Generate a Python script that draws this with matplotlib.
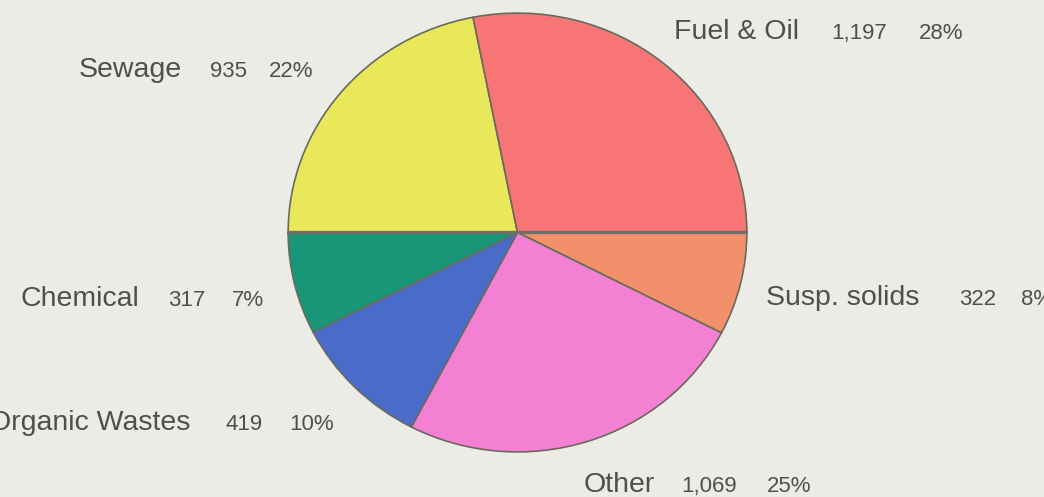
import matplotlib.pyplot as plt
import numpy as np

# slices, listed clockwise starting from 3 o'clock
names = ['Susp. solids', 'Other', 'Organic Wastes', 'Chemical', 'Sewage', 'Fuel & Oil']
values = [322, 1069, 419, 317, 935, 1197]
pct_labels = ['8%', '25%', '10%', '7%', '22%', '28%']
num_labels = ['322', '1,069', '419', '317', '935', '1,197']
colors = ['#f3906c', '#f480d4', '#4a6cc8', '#179778', '#e8e85a', '#f77575']

# label anchor (left x of name, baseline y) in pixels, and offsets of number / percent
label_pos = [(766, 305), (584, 492), (-11, 430), (20, 306), (79, 77), (674, 39)]
num_x = [959, 681, 225, 168, 210, 831]
pct_x = [1021, 767, 289, 232, 269, 919]

bg = '#ecece6'
txt = '#4c514c'

plt.rcParams['font.family'] = ['Liberation Sans', 'DejaVu Sans']

fig = plt.figure(figsize=(10.44, 4.97), dpi=100, facecolor=bg)

# pie is a bit wider than tall in the scan, so use a non-square axes
W, H = 1044, 497
left, right, top, bottom = 287, 748, 12, 453
ax = fig.add_axes([left / W, 1 - bottom / H, (right - left) / W, (bottom - top) / H])
ax.set_facecolor(bg)
wedges, _ = ax.pie(values, colors=colors, startangle=0, counterclock=False,
                   radius=1.0, wedgeprops=dict(edgecolor='#6a6a5c', linewidth=1.2))
ax.set_aspect('auto')
ax.set_xlim(-1.005, 1.005)
ax.set_ylim(-1.005, 1.005)
ax.axhline(0, color='#6f6e68', linewidth=2.4)
ax.axis('off')

# text layer in pixel coordinates
tx = fig.add_axes([0, 0, 1, 1])
tx.set_xlim(0, W)
tx.set_ylim(H, 0)
tx.axis('off')
tx.patch.set_alpha(0)

for i in range(len(names)):
    x, y = label_pos[i]
    tx.text(x, y, names[i], fontsize=20.5, color=txt, va='baseline', ha='left')
    tx.text(num_x[i], y, num_labels[i], fontsize=16, color=txt, va='baseline', ha='left')
    tx.text(pct_x[i], y, pct_labels[i], fontsize=16, color=txt, va='baseline', ha='left')

fig.savefig('out.png', dpi=100, facecolor=bg)
